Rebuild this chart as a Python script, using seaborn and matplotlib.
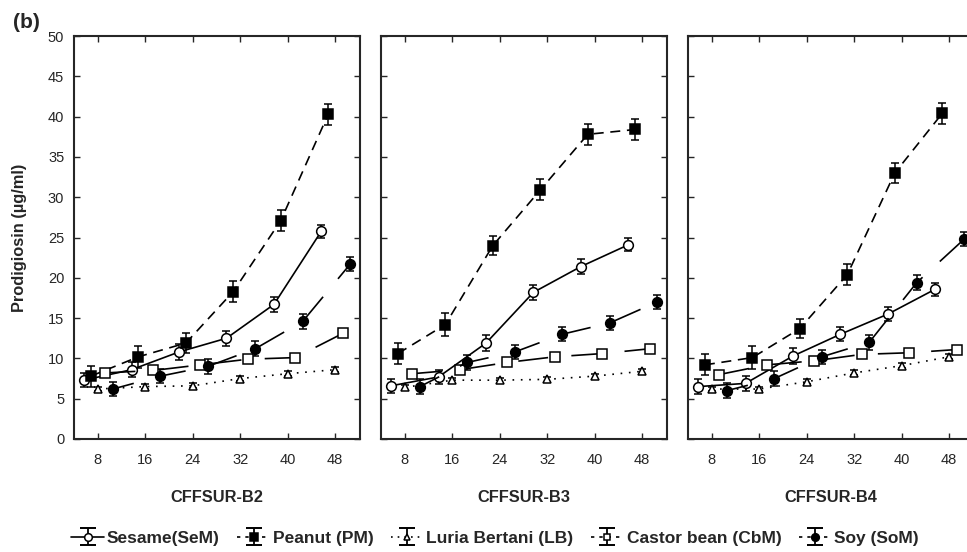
import numpy as np
import pandas as pd
import matplotlib
matplotlib.use("Agg")
import matplotlib.pyplot as plt
from matplotlib.container import ErrorbarContainer
from matplotlib.legend_handler import HandlerErrorbar
import seaborn as sns

# Sampling times (h) and groups
hours = [8, 16, 24, 32, 40, 48]
strains = ["CFFSUR-B2", "CFFSUR-B3", "CFFSUR-B4"]
media = ["Sesame(SeM)", "Peanut (PM)", "Luria Bertani (LB)",
         "Castor bean (CbM)", "Soy (SoM)"]

# Prodigiosin (ug/ml)
b2_sesame = [7.3, 8.6, 10.8, 12.5, 16.7, 25.8]
b2_peanut = [7.8, 10.2, 11.9, 18.3, 27.1, 40.3]
b2_lb = [6.2, 6.5, 6.6, 7.5, 8.1, 8.6]
b2_castor = [8.2, 8.5, 9.2, 9.9, 10.1, 13.1]
b2_soy = [6.2, 7.8, 9.0, 11.2, 14.6, 21.7]

b3_sesame = [6.6, 7.7, 11.9, 18.2, 21.4, 24.1]
b3_peanut = [10.6, 14.2, 24.0, 30.9, 37.8, 38.4]
b3_lb = [6.4, 7.3, 7.3, 7.4, 7.8, 8.4]
b3_castor = [8.1, 8.6, 9.5, 10.2, 10.6, 11.2]
b3_soy = [6.5, 9.5, 10.8, 13.0, 14.4, 17.0]

b4_sesame = [6.5, 6.9, 10.3, 13.0, 15.5, 18.6]
b4_peanut = [9.2, 10.1, 13.7, 20.4, 33.0, 40.4]
b4_lb = [6.2, 6.2, 7.1, 8.2, 9.1, 10.2]
b4_castor = [8.0, 9.2, 9.7, 10.5, 10.7, 11.1]
b4_soy = [6.0, 7.5, 10.2, 12.0, 19.4, 24.8]

# error bar half-widths per medium
err_sesame = [0.9, 0.9, 1.0, 0.9, 0.9, 0.8]
err_peanut = [1.3, 1.4, 1.2, 1.3, 1.3, 1.3]
err_lb = [0.3, 0.3, 0.3, 0.3, 0.3, 0.3]
err_castor = [0.3, 0.3, 0.3, 0.3, 0.3, 0.3]
err_soy = [0.9, 0.9, 0.9, 0.9, 0.9, 0.9]

values = {
    "CFFSUR-B2": [b2_sesame, b2_peanut, b2_lb, b2_castor, b2_soy],
    "CFFSUR-B3": [b3_sesame, b3_peanut, b3_lb, b3_castor, b3_soy],
    "CFFSUR-B4": [b4_sesame, b4_peanut, b4_lb, b4_castor, b4_soy],
}
errors = [err_sesame, err_peanut, err_lb, err_castor, err_soy]

# styling: horizontal dodge, marker, fill, line style
dodge = [-2.3, -1.15, 0.0, 1.3, 2.55]
markers = ["o", "s", "^", "s", "o"]
fills = ["white", "black", "white", "white", "black"]
msizes = [7, 7.5, 6, 6.5, 7]
lstyles = ["-", (0, (6, 4)), (0, (1, 4)), (0, (18, 14)), (5, (18, 14))]
leg_styles = ["-", (0, (2, 3)), (0, (1, 3)), (0, (2, 3)), (0, (2, 3))]


def main():
    rows = []
    for s in strains:
        for m, ys, es, off in zip(media, values[s], errors, dodge):
            for h, y, e in zip(hours, ys, es):
                rows.append({"strain": s, "medium": m, "hours": h,
                             "x": h + off, "prod": y, "err": e})
    df = pd.DataFrame(rows)

    sns.set_style("ticks")
    plt.rcParams["font.family"] = ["Liberation Sans", "DejaVu Sans"]

    fig = plt.figure(figsize=(9.67, 5.52), dpi=100)
    lefts = [74, 381, 688]
    axes = [fig.add_axes([l / 967, 1 - 439 / 552, 286 / 967, 403 / 552])
            for l in lefts]

    for ax, s in zip(axes, strains):
        sub = df[df["strain"] == s]
        for i, m in enumerate(media):
            d = sub[sub["medium"] == m]
            ax.errorbar(d["x"], d["prod"], yerr=d["err"], fmt="none",
                        ecolor="black", elinewidth=1.1, capsize=3,
                        capthick=1.1, zorder=1.5)
            sns.lineplot(data=d, x="x", y="prod", ax=ax, color="black",
                         errorbar=None, linewidth=1.2, linestyle=lstyles[i],
                         marker=markers[i], markersize=msizes[i],
                         markerfacecolor=fills[i], markeredgecolor="black",
                         markeredgewidth=1.1, zorder=3)
        ax.set_xlim(4, 52.2)
        ax.set_ylim(0, 50)
        ax.set_xticks(hours)
        ax.set_yticks(np.arange(0, 51, 5))
        ax.tick_params(direction="in", top=True, right=True, length=4,
                       width=1, labelsize=10.5, pad=10)
        ax.set_xlabel(s, fontsize=11.8, fontweight="bold", labelpad=17)
        ax.set_ylabel("")
        for sp in ax.spines.values():
            sp.set_linewidth(1.5)
            sp.set_visible(True)
    for ax in axes[1:]:
        ax.set_yticklabels([])
    axes[0].tick_params(axis="y", pad=7)
    axes[0].set_ylabel("Prodigiosin (µg/ml)", fontsize=11.8,
                       fontweight="bold", labelpad=15)

    # legend proxies in errorbar form (line, caps, bar)
    handles = []
    for i, m in enumerate(media):
        line = plt.Line2D([], [], color="black", linewidth=1.2,
                          linestyle=leg_styles[i], marker=markers[i],
                          markersize=msizes[i] - 1.5, markerfacecolor=fills[i],
                          markeredgecolor="black", markeredgewidth=1.1)
        cap = plt.Line2D([], [], color="black", linestyle="none",
                         marker="_", markersize=11, markeredgewidth=1.4)
        bar = matplotlib.collections.LineCollection([], colors="black",
                                                    linewidths=1.3)
        handles.append(ErrorbarContainer((line, (cap,), (bar,)),
                                         has_xerr=False, has_yerr=True))
    fig.legend(handles, media, loc="center", ncol=5,
               bbox_to_anchor=(0.512, 1 - 538 / 552), frameon=False,
               prop={"weight": "bold", "size": 12.5}, handlelength=1.9,
               handletextpad=0.15, columnspacing=1.0,
               handler_map={ErrorbarContainer: HandlerErrorbar(yerr_size=0.5)})

    fig.text(13 / 967, 1 - 23 / 552, "(b)", fontsize=15, fontweight="bold",
             va="center", ha="left")

    fig.savefig("out.png", dpi=100)
    plt.close()


if __name__ == "__main__":
    main()
